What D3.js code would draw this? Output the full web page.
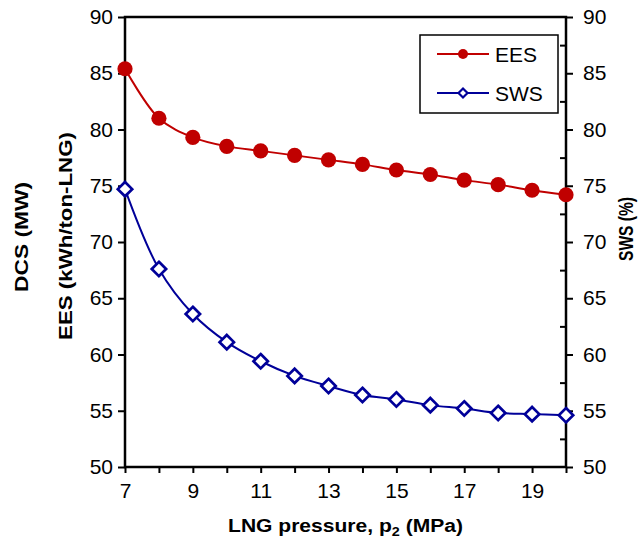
<!DOCTYPE html>
<html><head><meta charset="utf-8">
<script src="https://cdn.jsdelivr.net/npm/d3@7"></script>
<style>body{margin:0;background:#fff}svg{display:block}text{font-family:Arial,"Liberation Sans",sans-serif}</style>
</head><body><svg id="c" width="641" height="538"></svg>
<script>
const pressure = [7,8,9,10,11,12,13,14,15,16,17,18,19,20];
const ees = [85.4,81.0,79.3,78.5,78.1,77.7,77.3,76.9,76.4,76.0,75.5,75.1,74.6,74.2];
const sws = [74.7,67.6,63.6,61.1,59.4,58.1,57.2,56.4,56.0,55.5,55.2,54.8,54.7,54.6];
const xTickLabels = [7,9,11,13,15,17,19];
const yTicks = [50,55,60,65,70,75,80,85,90];

const svg = d3.select("#c");
const L=125,R=566,T=17,B=467;
const x = d3.scaleLinear().domain([7,20]).range([L,R]);
const y = d3.scaleLinear().domain([50,90]).range([B,T]);
const y2 = d3.scaleLinear().domain([50,90]).range([B,T]);

svg.append("g").attr("transform",`translate(0,${B})`)
  .call(d3.axisBottom(x).tickValues(d3.range(7,21)).tickSize(6).tickPadding(10)
    .tickFormat(d=>xTickLabels.includes(d)?d:""));
svg.append("g").attr("transform",`translate(${L},0)`)
  .call(d3.axisLeft(y).tickValues(yTicks).tickSize(7).tickPadding(5));
svg.append("g").attr("transform",`translate(${R},0)`)
  .call(d3.axisRight(y2).tickValues(yTicks).tickSize(7).tickPadding(10));
svg.append("g").attr("transform",`translate(${R},0)`)
  .call(d3.axisLeft(y2).tickValues(d3.range(52.5,90,5)).tickSize(6).tickFormat(""));
svg.selectAll(".domain").remove();
svg.selectAll(".tick line").attr("stroke","#000").attr("stroke-width",2);
svg.selectAll(".tick text").attr("font-size",21).attr("fill","#000")
  .attr("font-family","Arial, 'Liberation Sans', sans-serif");
svg.append("rect").attr("x",L).attr("y",T).attr("width",R-L).attr("height",B-T)
  .attr("fill","none").attr("stroke","#000").attr("stroke-width",2.5);

const line = (arr,sc)=>d3.line().x((d,i)=>x(pressure[i])).y(d=>sc(d)).curve(d3.curveCatmullRom.alpha(0.5))(arr);
svg.append("path").attr("d",line(ees,y)).attr("fill","none").attr("stroke","#C00000").attr("stroke-width",2);
svg.append("path").attr("d",line(sws,y2)).attr("fill","none").attr("stroke","#000099").attr("stroke-width",2);

svg.append("g").selectAll("circle").data(ees).join("circle")
  .attr("cx",(d,i)=>x(pressure[i])).attr("cy",d=>y(d)).attr("r",7.6).attr("fill","#C00000");
const dia = s=>`M0,${-s}L${s},0L0,${s}L${-s},0Z`;
svg.append("g").selectAll("path").data(sws).join("path")
  .attr("transform",(d,i)=>`translate(${x(pressure[i])},${y2(d)})`)
  .attr("d",dia(7.2)).attr("fill","#fff").attr("stroke","#000099").attr("stroke-width",2.7);

// legend
const lg = svg.append("g");
lg.append("rect").attr("x",420).attr("y",35).attr("width",138).attr("height",78)
  .attr("fill","#fff").attr("stroke","#000").attr("stroke-width",1.5);
lg.append("line").attr("x1",437).attr("x2",489).attr("y1",54).attr("y2",54).attr("stroke","#C00000").attr("stroke-width",2);
lg.append("circle").attr("cx",463).attr("cy",54).attr("r",5).attr("fill","#C00000");
lg.append("text").attr("x",495).attr("y",61.5).attr("font-size",21).text("EES");
lg.append("line").attr("x1",437).attr("x2",489).attr("y1",93).attr("y2",93).attr("stroke","#000099").attr("stroke-width",2);
lg.append("path").attr("transform","translate(463,93)").attr("d",dia(4.5)).attr("fill","#fff").attr("stroke","#000099").attr("stroke-width",2.2);
lg.append("text").attr("x",495).attr("y",100.5).attr("font-size",21).text("SWS");

function fit(sel, len){
  const w = sel.node().getComputedTextLength();
  return len / w;
}
const xt = svg.append("text").attr("text-anchor","middle")
  .attr("font-size",19).attr("font-weight","bold");
xt.append("tspan").text("LNG pressure, p");
xt.append("tspan").attr("font-size",13).attr("dy",4).text("2");
xt.append("tspan").attr("dy",-4).text(" (MPa)");
xt.attr("transform",`translate(345.5,532) scale(${fit(xt,235)},1)`);

function vtitle(txt,cx,cy,len,fs){
  const t = svg.append("text").attr("text-anchor","middle").attr("font-size",fs).attr("font-weight","bold").text(txt);
  t.attr("transform",`translate(${cx},${cy}) rotate(-90) scale(${fit(t,len)},1)`);
}
vtitle("EES (kWh/ton-LNG)",72,236,208,19);
vtitle("DCS (MW)",28,237,110,19);
vtitle("SWS (%)",633,229,64,20);
</script></body></html>
